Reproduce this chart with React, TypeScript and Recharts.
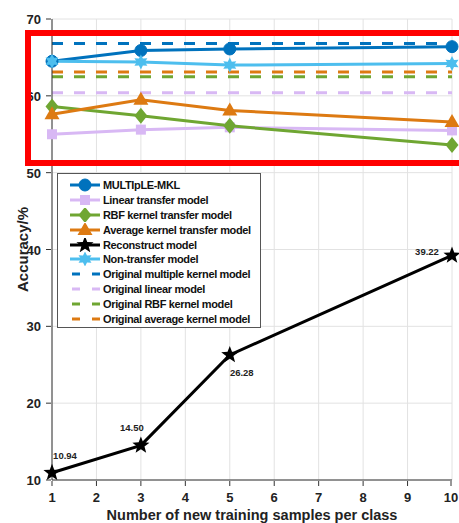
import React from "react"
import {
    CartesianGrid,
    LabelList,
    Line,
    LineChart,
    XAxis,
    YAxis,
} from "recharts"

const samples = [1, 3, 5, 10]
const mkl = [64.5, 65.9, 66.1, 66.4]
const linearTransfer = [55.0, 55.6, 55.9, 55.5]
const rbfTransfer = [58.6, 57.4, 56.1, 53.6]
const avgTransfer = [57.6, 59.5, 58.1, 56.6]
const reconstruct = [10.94, 14.5, 26.28, 39.22]
const nonTransfer = [64.5, 64.4, 64.0, 64.2]

const origMultiple = 66.8
const origLinear = 60.4
const origRbf = 62.5
const origAverage = 63.1

const xTicks = [1, 2, 3, 4, 5, 6, 7, 8, 9, 10]
const yTicks = [10, 20, 30, 40, 50, 60, 70]

const C = {
    blue: "#0072BD",
    lilac: "#D8B8F4",
    green: "#6FA632",
    orange: "#DD7A12",
    black: "#000000",
    light: "#4DBEEE",
}

const FONT = "'Liberation Sans', Arial, sans-serif"

const data = samples.map((s, i) => ({
    x: s,
    mkl: mkl[i],
    linear: linearTransfer[i],
    rbf: rbfTransfer[i],
    avg: avgTransfer[i],
    rec: reconstruct[i],
    non: nonTransfer[i],
    oMul: origMultiple,
    oLin: origLinear,
    oRbf: origRbf,
    oAvg: origAverage,
}))

// shape helpers
const starPoints = (cx: number, cy: number, n: number, ro: number, ri: number) => {
    const pts: string[] = []
    for (let k = 0; k < n * 2; k++) {
        const r = k % 2 === 0 ? ro : ri
        const a = -Math.PI / 2 + (k * Math.PI) / n
        pts.push(`${cx + r * Math.cos(a)},${cy + r * Math.sin(a)}`)
    }
    return pts.join(" ")
}

type Shape = "circle" | "square" | "diamond" | "triangle" | "star5" | "star6"

function Marker({ cx, cy, shape, color }: { cx: number; cy: number; shape: Shape; color: string }) {
    switch (shape) {
        case "circle":
            return <circle cx={cx} cy={cy} r={6} fill={color} stroke={color} />
        case "square":
            return <rect x={cx - 5} y={cy - 5} width={10} height={10} fill={color} />
        case "diamond":
            return <polygon points={`${cx},${cy - 8} ${cx + 6.5},${cy} ${cx},${cy + 8} ${cx - 6.5},${cy}`} fill={color} />
        case "triangle":
            return <polygon points={`${cx},${cy - 8} ${cx + 7.5},${cy + 5} ${cx - 7.5},${cy + 5}`} fill={color} />
        case "star5":
            return <polygon points={starPoints(cx, cy, 5, 9, 3.8)} fill={color} />
        case "star6":
            return <polygon points={starPoints(cx, cy, 6, 7.5, 4)} fill={color} />
    }
}

const dot = (shape: Shape, color: string) => (p: any) =>
    <Marker key={`${shape}-${p.index}`} cx={p.cx} cy={p.cy} shape={shape} color={color} />

const labelOffsets = [
    [13, -17],
    [-9, -17],
    [12, 18],
    [-25, -3],
]

const legendItems: { name: string; color: string; shape?: Shape }[] = [
    { name: "MULTIpLE-MKL", color: C.blue, shape: "circle" },
    { name: "Linear transfer model", color: C.lilac, shape: "square" },
    { name: "RBF kernel transfer model", color: C.green, shape: "diamond" },
    { name: "Average kernel transfer model", color: C.orange, shape: "triangle" },
    { name: "Reconstruct model", color: C.black, shape: "star5" },
    { name: "Non-transfer model", color: C.light, shape: "star6" },
    { name: "Original multiple kernel model", color: C.blue },
    { name: "Original linear model", color: C.lilac },
    { name: "Original RBF kernel model", color: C.green },
    { name: "Original average kernel model", color: C.orange },
]

function YTick(props: any) {
    const { x, y, payload } = props
    return (
        <g>
            <line x1={x + 5} x2={x + 10} y1={y} y2={y} stroke="#333" />
            <text x={x} y={y} dy={5} textAnchor="end" fontSize={13} fontWeight="bold" fill="#222" fontFamily={FONT}>
                {payload.value}
            </text>
        </g>
    )
}

function XTick(props: any) {
    const { x, y, payload } = props
    return (
        <g>
            <line x1={x} x2={x} y1={y - 6} y2={y - 11} stroke="#333" />
            <text x={x} y={y} dy={10} textAnchor="middle" fontSize={13} fontWeight="bold" fill="#222" fontFamily={FONT}>
                {payload.value}
            </text>
        </g>
    )
}

function Legend() {
    return (
        <div
            style={{
                position: "absolute",
                left: 57,
                top: 173,
                width: 204,
                height: 155,
                background: "#fff",
                border: "1px solid #555",
                boxSizing: "border-box",
                padding: "4px 0 0 0",
            }}
        >
            {legendItems.map((it) => (
                <div key={it.name} style={{ display: "flex", alignItems: "center", height: 14.8 }}>
                    <svg width={45} height={14} style={{ flex: "none" }}>
                        {it.shape ? (
                            <>
                                <line x1={12} x2={42} y1={7} y2={7} stroke={it.color} strokeWidth={3} />
                                <Marker cx={27} cy={7} shape={it.shape} color={it.color} />
                            </>
                        ) : (
                            <line x1={14} x2={42} y1={7} y2={7} stroke={it.color} strokeWidth={3} strokeDasharray="8 12" />
                        )}
                    </svg>
                    <span
                        style={{
                            fontFamily: FONT,
                            fontWeight: "bold",
                            fontSize: 11,
                            color: "#111",
                            letterSpacing: -0.35,
                            whiteSpace: "nowrap",
                        }}
                    >
                        {it.name}
                    </span>
                </div>
            ))}
        </div>
    )
}

export default function App() {
    return (
        <div
            style={{
                position: "absolute",
                left: 0,
                top: 0,
                width: 459,
                height: 523,
                overflow: "hidden",
                background: "#fff",
            }}
        >
            <LineChart width={459} height={523} data={data} margin={{ top: 19, right: 7, left: 0, bottom: 0 }}>
                <CartesianGrid stroke="#e2e2e2" />
                <XAxis
                    dataKey="x"
                    type="number"
                    domain={[1, 10]}
                    ticks={xTicks}
                    height={43}
                    stroke="#333"
                    tickLine={false}
                    tick={<XTick />}
                    tickMargin={6}
                    label={{
                        value: "Number of new training samples per class",
                        position: "insideBottom",
                        offset: 3,
                        fontSize: 14.5,
                        fontWeight: "bold",
                        fill: "#222",
                        fontFamily: FONT,
                    }}
                />
                <YAxis
                    type="number"
                    domain={[10, 70]}
                    ticks={yTicks}
                    width={52}
                    stroke="#333"
                    tickLine={false}
                    tick={<YTick />}
                    tickMargin={5}
                    label={{
                        value: "Accuracy/%",
                        angle: -90,
                        position: "insideLeft",
                        offset: 23,
                        fontSize: 15,
                        fontWeight: "bold",
                        fill: "#222",
                        fontFamily: FONT,
                        style: { textAnchor: "middle" },
                    }}
                />
                <Line dataKey="oLin" stroke={C.lilac} strokeWidth={3} strokeDasharray="11 11" dot={false} isAnimationActive={false} />
                <Line dataKey="oRbf" stroke={C.green} strokeWidth={3} strokeDasharray="11 11" dot={false} isAnimationActive={false} />
                <Line dataKey="oAvg" stroke={C.orange} strokeWidth={3} strokeDasharray="11 11" dot={false} isAnimationActive={false} />
                <Line dataKey="oMul" stroke={C.blue} strokeWidth={3} strokeDasharray="11 11" dot={false} isAnimationActive={false} />
                <Line dataKey="linear" stroke={C.lilac} strokeWidth={3} dot={dot("square", C.lilac)} isAnimationActive={false} />
                <Line dataKey="rbf" stroke={C.green} strokeWidth={3} dot={dot("diamond", C.green)} isAnimationActive={false} />
                <Line dataKey="avg" stroke={C.orange} strokeWidth={3} dot={dot("triangle", C.orange)} isAnimationActive={false} />
                <Line dataKey="mkl" stroke={C.blue} strokeWidth={3} dot={dot("circle", C.blue)} isAnimationActive={false} />
                <Line dataKey="non" stroke={C.light} strokeWidth={3} dot={dot("star6", C.light)} isAnimationActive={false} />
                <Line dataKey="rec" stroke={C.black} strokeWidth={3} dot={dot("star5", C.black)} isAnimationActive={false}>
                    <LabelList
                        dataKey="rec"
                        content={(p: any) => {
                            const [dx, dy] = labelOffsets[p.index] || [0, 0]
                            return (
                                <text
                                    x={p.x + dx}
                                    y={p.y + dy}
                                    dy={3}
                                    textAnchor="middle"
                                    fontSize={9.5}
                                    fontWeight="bold"
                                    fill="#222"
                                    fontFamily={FONT}
                                >
                                    {Number(p.value).toFixed(2)}
                                </text>
                            )
                        }}
                    />
                </Line>
            </LineChart>
            <Legend />
            <div
                style={{
                    position: "absolute",
                    left: 25,
                    top: 30,
                    width: 460,
                    height: 136,
                    border: "6px solid #FF0000",
                    boxSizing: "border-box",
                }}
            />
        </div>
    )
}
